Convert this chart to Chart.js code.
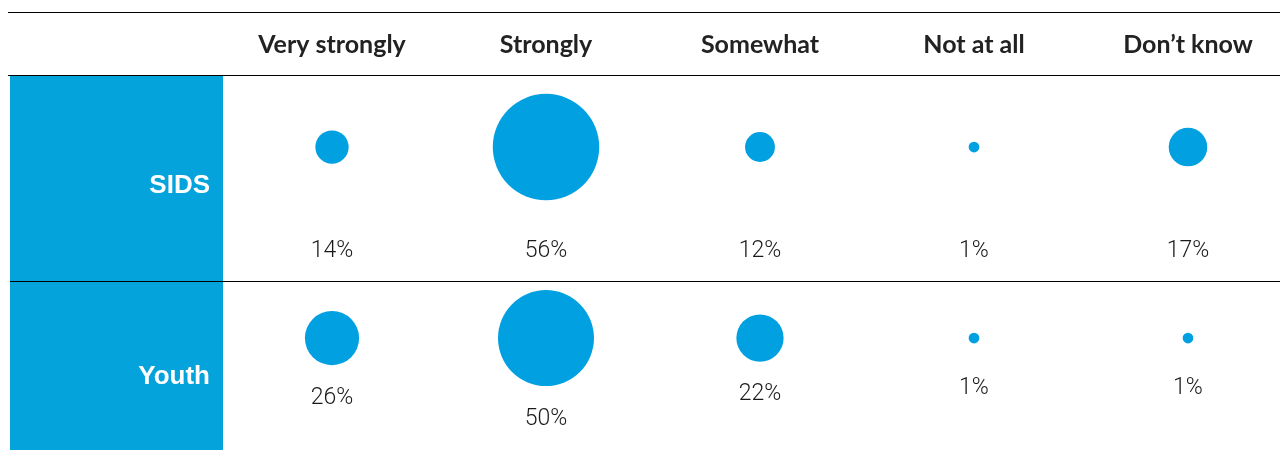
<!DOCTYPE html>
<html>
<head>
<meta charset="utf-8">
<script src="https://cdn.jsdelivr.net/npm/chart.js@4/dist/chart.umd.min.js"></script>
<style>
  html, body { margin: 0; padding: 0; background: #fff; }
  #wrap { width: 1280px; height: 450px; position: relative; }
</style>
</head>
<body>
<div id="wrap"><canvas id="bubbleTable"></canvas></div>
<script>
const categories = ['Very strongly', 'Strongly', 'Somewhat', 'Not at all', 'Don\u2019t know'];
const groups = ['SIDS', 'Youth'];
const sidsValues = [14, 56, 12, 1, 17];
const youthValues = [26, 50, 22, 1, 1];

const blue = '#00a0e1';
const boxBlue = '#04a3dc';

// bubble size grows with the share
function radiusFor(v) {
  return 4.5 + 0.87 * v;
}

const points = [];
[sidsValues, youthValues].forEach(function(values, row) {
  values.forEach(function(v, col) {
    points.push({ x: col, y: row, v: v });
  });
});

// table frame, header and row names
const framePlugin = {
  id: 'frame',
  beforeDraw(chart) {
    const ctx = chart.ctx;
    const xs = chart.scales.x, ys = chart.scales.y;
    ctx.save();
    // row boxes
    ctx.fillStyle = boxBlue;
    ctx.fillRect(10, 76, 213, 205);
    ctx.fillRect(10, 282, 213, 168);
    // rules
    ctx.strokeStyle = '#000';
    ctx.lineWidth = 1.2;
    ctx.beginPath();
    ctx.moveTo(8, 12.5); ctx.lineTo(1280, 12.5);
    ctx.moveTo(8, 75.5); ctx.lineTo(1280, 75.5);
    ctx.moveTo(10, 281.5); ctx.lineTo(1280, 281.5);
    ctx.stroke();
    // header
    ctx.fillStyle = '#222';
    ctx.font = 'bold 25px Lato';
    ctx.textAlign = 'center';
    ctx.textBaseline = 'middle';
    categories.forEach(function(c, i) {
      ctx.fillText(c, xs.getPixelForValue(i), 45);
    });
    // row names
    ctx.fillStyle = '#fff';
    ctx.font = 'bold 26px "Liberation Sans"';
    ctx.textAlign = 'right';
    groups.forEach(function(g, r) {
      ctx.fillText(g, 210, ys.getPixelForValue(r) + 39);
    });
    ctx.restore();
  }
};

// percent labels under the bubbles
const labelPlugin = {
  id: 'pctLabels',
  afterDatasetsDraw(chart) {
    const ctx = chart.ctx;
    const ys = chart.scales.y;
    const meta = chart.getDatasetMeta(0);
    ctx.save();
    ctx.fillStyle = '#1a1a1a';
    ctx.font = '300 23px Roboto';
    ctx.textAlign = 'center';
    ctx.textBaseline = 'middle';
    meta.data.forEach(function(el, i) {
      const p = points[i];
      let y;
      if (p.y === 0) {
        y = ys.getPixelForValue(0) + 104;
      } else {
        y = el.y + Math.max(el.options.radius, 17) + 33;
      }
      ctx.fillText(p.v + '%', el.x, y);
    });
    ctx.restore();
  }
};

new Chart(document.getElementById('bubbleTable').getContext('2d'), {
  type: 'bubble',
  data: {
    datasets: [{
      data: points,
      backgroundColor: blue,
      borderWidth: 0,
      radius: function(c) { return radiusFor(c.raw.v); },
      hoverRadius: 0
    }]
  },
  options: {
    responsive: true,
    maintainAspectRatio: false,
    animation: false,
    events: [],
    layout: { autoPadding: false, padding: { top: 76, left: 225, right: 0, bottom: 0 } },
    plugins: {
      legend: { display: false },
      tooltip: { enabled: false }
    },
    scales: {
      x: { type: 'linear', display: false, min: -0.5, max: 4.43 },
      y: { type: 'linear', display: false, reverse: true, min: -0.372, max: 1.586 }
    }
  },
  plugins: [framePlugin, labelPlugin]
});
</script>
</body>
</html>
